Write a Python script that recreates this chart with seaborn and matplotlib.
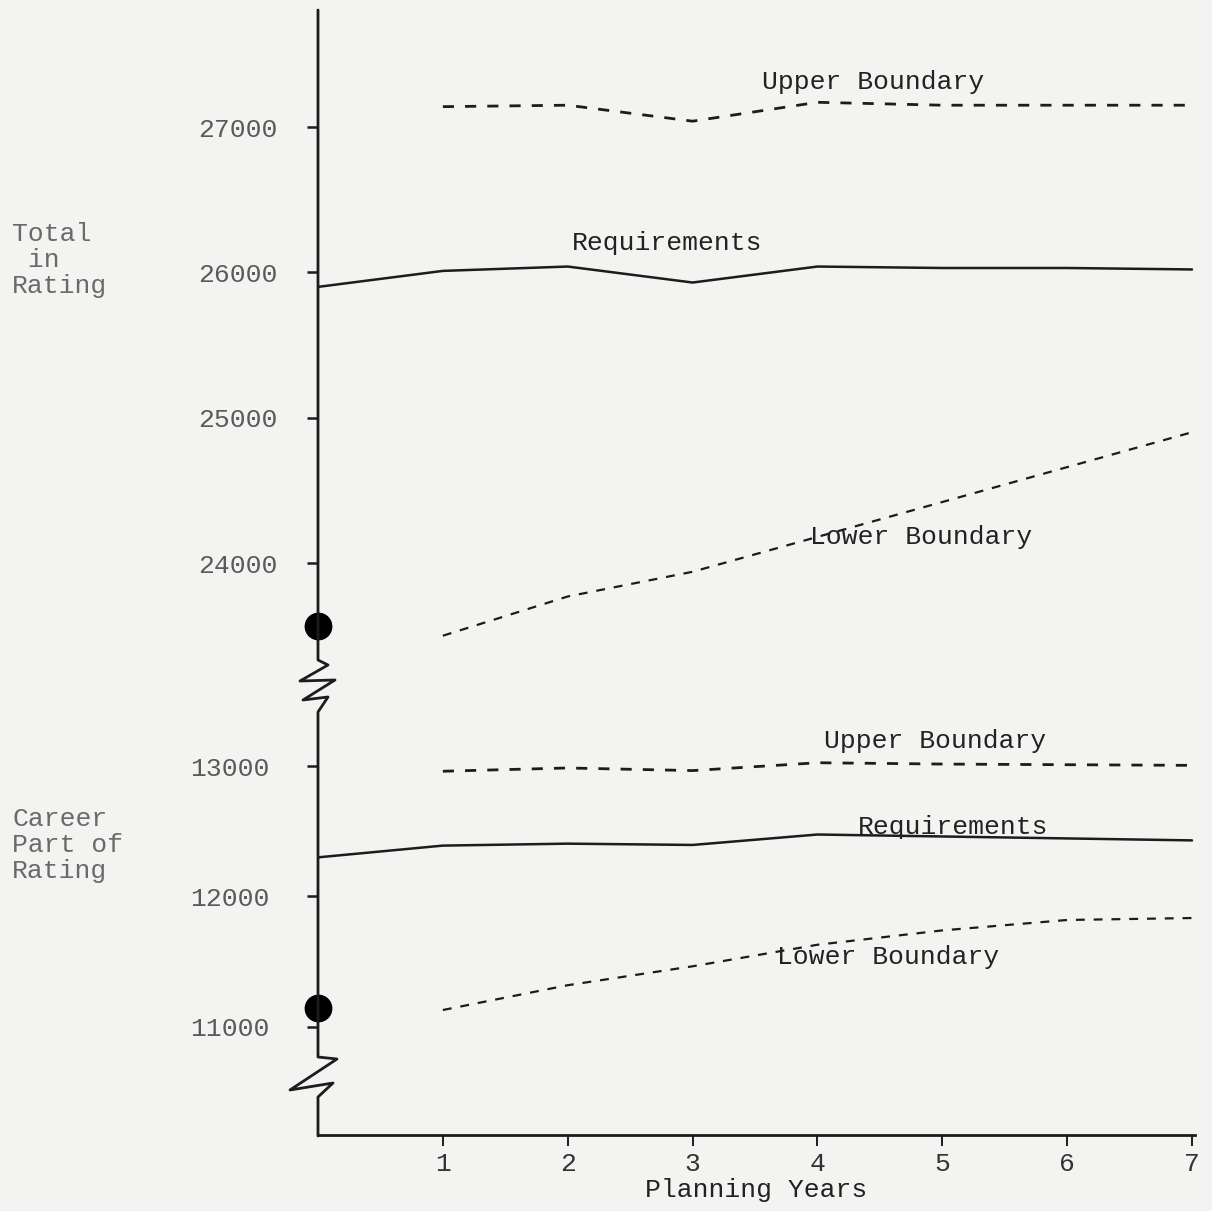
import matplotlib.pyplot as plt
from matplotlib.lines import Line2D
import seaborn as sns

# planning years
years = [0, 1, 2, 3, 4, 5, 6, 7]
years_b = [1, 2, 3, 4, 5, 6, 7]

# total in rating
total_upper = [27140, 27150, 27040, 27170, 27150, 27150, 27150]
total_req = [25900, 26010, 26040, 25930, 26040, 26030, 26030, 26020]
total_lower = [23500, 23770, 23940, 24180, 24420, 24660, 24900]
total_start = 23570

# career part of rating
career_upper = [12960, 12985, 12965, 13025, 13015, 13010, 13005]
career_req = [12300, 12390, 12405, 12395, 12475, 12460, 12445, 12430]
career_lower = [11130, 11320, 11465, 11630, 11740, 11820, 11835]
career_start = 11145

top_ticks = [24000, 25000, 26000, 27000]
bot_ticks = [11000, 12000, 13000]

sns.set_style("white")
plt.rcParams['font.family'] = ['Liberation Mono', 'DejaVu Sans Mono']

W, H = 1212, 1211
bg = '#f3f3f1'
ink = '#1c1c1c'
grey = '#5a5a5a'

fig = plt.figure(figsize=(W / 100, H / 100), dpi=100, facecolor=bg)
left = 318 / W
width = (1194.5 - 318) / W
ax_top = fig.add_axes([left, 1 - 660 / H, width, 650 / H], facecolor=bg)
ax_bot = fig.add_axes([left, 1 - 1135 / H, width, 420 / H], facecolor=bg)


def draw(ax, req, upper, lower):
    sns.lineplot(x=years, y=req, ax=ax, color=ink, lw=1.8)
    sns.lineplot(x=years_b, y=upper, ax=ax, color=ink, lw=2.0, linestyle=(0, (4, 4)))
    sns.lineplot(x=years_b, y=lower, ax=ax, color=ink, lw=1.6, linestyle=(0, (4, 4)))


draw(ax_top, total_req, total_upper, total_lower)
draw(ax_bot, career_req, career_upper, career_lower)
ax_top.plot([0], [total_start], 'o', color='black', ms=19, clip_on=False, zorder=5)
ax_bot.plot([0], [career_start], 'o', color='black', ms=19, clip_on=False, zorder=5)

for ax in (ax_top, ax_bot):
    ax.set_xlim(0, 7.02)
    for s in ('top', 'right', 'left'):
        ax.spines[s].set_visible(False)
    ax.tick_params(axis='y', left=True, direction='out', length=8, width=1.8,
                   color=ink, labelsize=19, labelcolor=grey)

ax_top.set_ylim(23333, 27805)
ax_top.set_yticks(top_ticks)
ax_top.set_yticklabels([str(v) for v in top_ticks])
ax_top.tick_params(axis='y', pad=21)
ax_top.spines['bottom'].set_visible(False)
ax_top.set_xticks([])

ax_bot.set_ylim(10172, 13391)
ax_bot.set_yticks(bot_ticks)
ax_bot.set_yticklabels([str(v) for v in bot_ticks])
ax_bot.tick_params(axis='y', pad=27)
ax_bot.spines['bottom'].set_color(ink)
ax_bot.spines['bottom'].set_linewidth(2)
ax_bot.set_xticks(years_b)
ax_bot.set_xticklabels([str(v) for v in years_b])
ax_bot.tick_params(axis='x', bottom=True, direction='out', length=8, width=1.4,
                   color=ink, labelsize=19, labelcolor='#333333', pad=4)
ax_bot.set_xlabel('Planning Years', fontsize=19, color='#222222', labelpad=2)

# series labels
lab = dict(fontsize=19, color='#222222', va='center', ha='left')
ax_top.text(3.56, 27310, 'Upper Boundary', **lab)
ax_top.text(2.03, 26200, 'Requirements', **lab)
ax_top.text(3.94, 24180, 'Lower Boundary', **lab)
ax_bot.text(4.05, 13190, 'Upper Boundary', **lab)
ax_bot.text(4.32, 12530, 'Requirements', **lab)
ax_bot.text(3.68, 11540, 'Lower Boundary', **lab)

# group labels on the left
fig.text(12 / W, 1 - 260 / H, 'Total\n in\nRating', fontsize=19, color='#6a6a6a',
         ha='left', va='center', linespacing=1.1)
fig.text(12 / W, 1 - 845 / H, 'Career\nPart of\nRating', fontsize=19, color='#6a6a6a',
         ha='left', va='center', linespacing=1.1)

# vertical axis with the two break zigzags
px = [(318, 10), (318, 660), (328, 665), (300, 681), (335, 680), (303, 700),
      (328, 697), (318, 712), (318, 1057), (337, 1059), (290, 1090), (333, 1083),
      (318, 1097), (318, 1136)]
fig.add_artist(Line2D([p[0] / W for p in px], [1 - p[1] / H for p in px],
                      color=ink, lw=2, transform=fig.transFigure))

fig.savefig('out.png', dpi=100, facecolor=bg)
